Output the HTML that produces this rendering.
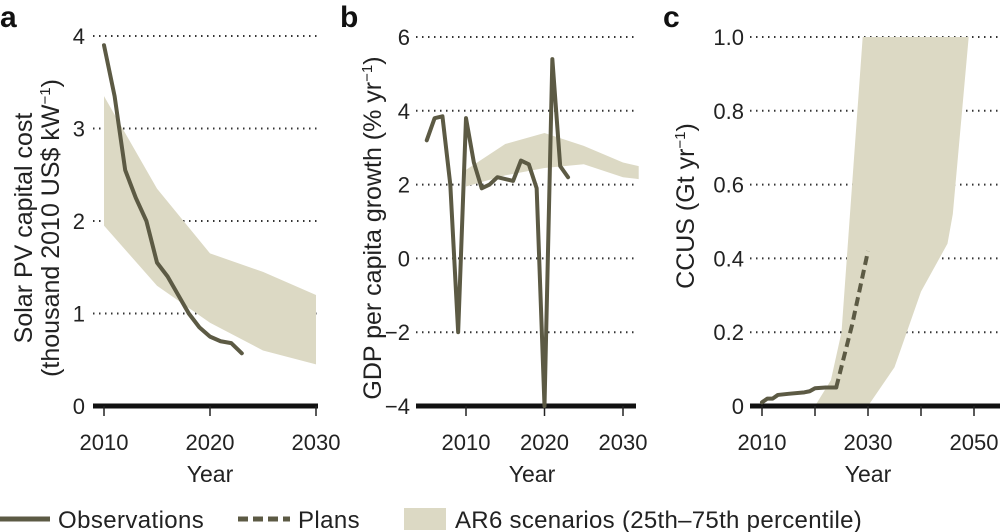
<!DOCTYPE html>
<html><head><meta charset="utf-8"><style>
body{margin:0;background:#fff;}
svg{display:block;font-family:"Liberation Sans",sans-serif;}
</style></head><body>
<svg id="fig" width="1000" height="532" viewBox="0 0 1000 532"></svg>
<script>
// ---- Panel a data ----
const aObsYears=[2010,2011,2012,2013,2014,2015,2016,2017,2018,2019,2020,2021,2022,2023];
const aObsVals=[3.9,3.35,2.55,2.25,2.0,1.55,1.4,1.2,1.0,0.85,0.75,0.7,0.68,0.57];
const aBandYears=[2010,2015,2020,2025,2030];
const aBandHi=[3.35,2.35,1.65,1.45,1.2];
const aBandLo=[1.95,1.3,0.9,0.6,0.45];
const aYTicks=[0,1,2,3,4];
const aXTicks=[2010,2020,2030];
// ---- Panel b data ----
const bObsYears=[2005,2006,2007,2008,2009,2010,2011,2012,2013,2014,2015,2016,2017,2018,2019,2020,2021,2022,2023];
const bObsVals=[3.2,3.8,3.85,2.0,-2.0,3.8,2.6,1.9,2.0,2.2,2.15,2.1,2.65,2.55,1.9,-4.0,5.4,2.5,2.2];
const bBandYears=[2010,2015,2020,2025,2030,2032];
const bBandHi=[2.4,3.1,3.4,3.05,2.6,2.5];
const bBandLo=[1.95,2.25,2.45,2.55,2.2,2.15];
const bYTicks=[-4,-2,0,2,4,6];
const bYTickLabels=["\u22124","\u22122","0","2","4","6"];
const bXTicks=[2010,2020,2030];
// ---- Panel c data ----
const cObsYears=[2010,2011,2012,2013,2015,2018,2019,2020,2022,2024];
const cObsVals=[0.01,0.02,0.02,0.03,0.033,0.037,0.04,0.048,0.05,0.05];
const cPlanYears=[2024,2027,2030];
const cPlanVals=[0.05,0.22,0.42];
const cBandHiYears=[2020,2023,2025,2029,2049];
const cBandHiVals=[0,0.07,0.2,1.0,1.0];
const cBandLoYears=[2030,2035,2040,2045,2046,2049];
const cBandLoVals=[0,0.105,0.31,0.44,0.52,1.0];
const cYTicks=[0,0.2,0.4,0.6,0.8,1.0];
const cYTickLabels=["0","0.2","0.4","0.6","0.8","1.0"];
const cXTicks=[2010,2020,2030,2040,2050];
const cXTickLabels=["2010","","2030","","2050"];

const NS="http://www.w3.org/2000/svg";
const svg=document.getElementById('fig');
const LINE="#5c5a44", BAND="#dcd9c4";
function el(tag,attrs,parent){const e=document.createElementNS(NS,tag);for(const k in attrs)e.setAttribute(k,attrs[k]);(parent||svg).appendChild(e);return e;}
function lin(d0,d1,r0,r1){return v=>r0+(v-d0)*(r1-r0)/(d1-d0);}

function panel(cfg){
  const g=el('g',{});
  
  
  const x=cfg.x,y=cfg.y;
  cfg.yTicks.forEach((t,i)=>{
    if(i===0)return;
    const gl=el('line',{x1:cfg.gx0,x2:cfg.gx1,y1:y(t),y2:y(t),stroke:'#333','stroke-width':2,'stroke-dasharray':'1.5 4.5'},g);
    
    
  });
  const pts=[];
  cfg.bandHiX.forEach((yr,i)=>pts.push(x(yr)+','+y(cfg.bandHiV[i])));
  for(let i=cfg.bandLoX.length-1;i>=0;i--)pts.push(x(cfg.bandLoX[i])+','+y(cfg.bandLoV[i]));
  const band=el('polygon',{points:pts.join(' '),fill:BAND},g);
  
  
  const ax=el('line',{x1:cfg.gx0,x2:cfg.gx1,y1:y(cfg.yTicks[0]),y2:y(cfg.yTicks[0]),stroke:'#111','stroke-width':5},g);
  
  
  const y0=y(cfg.yTicks[0]);
  cfg.xTicks.forEach((t,i)=>{
    const tk=el('line',{x1:x(t),x2:x(t),y1:y0,y2:y0+10,stroke:'#222','stroke-width':1.5},g);
    
    
    const lab=cfg.xLabels?cfg.xLabels[i]:String(t);
    if(lab){const tx=el('text',{x:x(t),y:y0+44,'text-anchor':'middle','font-size':22,fill:'#222'},g);tx.textContent=lab;
    
    }
  });
  cfg.yTicks.forEach((t,i)=>{
    const tx=el('text',{x:cfg.ylx,y:y(t)+8,'text-anchor':'end','font-size':22,fill:'#222'},g);
    tx.textContent=cfg.yLabels?cfg.yLabels[i]:String(t);
    
    
  });
  const obs=el('polyline',{points:cfg.obsX.map((yr,i)=>x(yr)+','+y(cfg.obsV[i])).join(' '),fill:'none',stroke:LINE,'stroke-width':4,'stroke-linejoin':'round','stroke-linecap':'round'},g);
  
  
  if(cfg.planX){
    const pl=el('polyline',{points:cfg.planX.map((yr,i)=>x(yr)+','+y(cfg.planV[i])).join(' '),fill:'none',stroke:LINE,'stroke-width':4,'stroke-dasharray':'9 5'},g);
    
    
  }
  const yt=el('text',{x:cfg.yearX,y:482,'text-anchor':'middle','font-size':23,fill:'#222'},g);
  yt.textContent='Year';
  
  
  const pl=el('text',{x:cfg.letterX,y:27,'font-size':30,'font-weight':'bold',fill:'#111'},g);
  pl.textContent=cfg.letter;
  
  
}

const ax_=lin(2010,2030,104,316), ay_=lin(0,4,406,36);
panel({name:'panel-a',x:ax_,y:ay_,gx0:93,gx1:318,ylx:85,yTicks:aYTicks,xTicks:aXTicks,
  bandHiX:aBandYears,bandHiV:aBandHi,bandLoX:aBandYears,bandLoV:aBandLo,obsX:aObsYears,obsV:aObsVals,yearX:210,letterX:0,letter:'a'});
const bx_=lin(2010,2030,466,623), by_=lin(-4,6,406,37);
panel({name:'panel-b',x:bx_,y:by_,gx0:416,gx1:636,ylx:410,yTicks:bYTicks,yLabels:bYTickLabels,xTicks:bXTicks,
  bandHiX:bBandYears,bandHiV:bBandHi,bandLoX:bBandYears,bandLoV:bBandLo,obsX:bObsYears,obsV:bObsVals,yearX:532,letterX:340,letter:'b'});
const cx_=lin(2010,2050,762,974), cy_=lin(0,1,406,37);
panel({name:'panel-c',x:cx_,y:cy_,gx0:750,gx1:1000,ylx:744,yTicks:cYTicks,yLabels:cYTickLabels,xTicks:cXTicks,xLabels:cXTickLabels,
  bandHiX:cBandHiYears,bandHiV:cBandHiVals,bandLoX:cBandLoYears,bandLoV:cBandLoVals,obsX:cObsYears,obsV:cObsVals,planX:cPlanYears,planV:cPlanVals,yearX:868,letterX:663,letter:'c'});

function ytitle(txt,x,y,name){const t=el('text',{x:0,y:0,transform:`translate(${x},${y}) rotate(-90)`,'text-anchor':'middle','font-size':25,fill:'#222'});
  t.innerHTML=txt;
  
  }
ytitle('Solar PV capital cost',32,228,'y-axis-title-a');
ytitle('(thousand 2010 US$ kW<tspan dy="-9" font-size="15">\u22121</tspan><tspan dy="9">)</tspan>',59,228,'y-axis-subtitle-a');
ytitle('GDP per capita growth (% yr<tspan dy="-9" font-size="15">\u22121</tspan><tspan dy="9">)</tspan>',381,228,'y-axis-title-b');
ytitle('CCUS (Gt yr<tspan dy="-9" font-size="15">\u22121</tspan><tspan dy="9">)</tspan>',694,206,'y-axis-title-c');

const lg=el('g',{});


const l1=el('line',{x1:0,x2:50,y1:519,y2:519,stroke:LINE,'stroke-width':5},lg);


const t1=el('text',{x:58,y:528,'font-size':24,'letter-spacing':0.4,fill:'#222'},lg);t1.textContent='Observations';


const l2=el('line',{x1:238,x2:290,y1:519,y2:519,stroke:LINE,'stroke-width':5,'stroke-dasharray':'10 5'},lg);


const t2=el('text',{x:298,y:528,'font-size':24,'letter-spacing':0.4,fill:'#222'},lg);t2.textContent='Plans';


const r3=el('rect',{x:404,y:508,width:42,height:22,fill:BAND},lg);


const t3=el('text',{x:455,y:528,'font-size':24,'letter-spacing':0.3,fill:'#222'},lg);t3.textContent='AR6 scenarios (25th\u201375th percentile)';


</script>
</body></html>
